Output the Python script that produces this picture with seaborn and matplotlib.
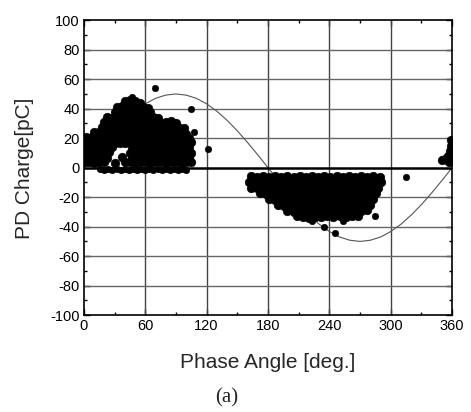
import numpy as np
import pandas as pd
import matplotlib
matplotlib.use("Agg")
import matplotlib.pyplot as plt
import seaborn as sns

# Positive half-cycle discharges (phase in deg, charge in pC), row by row
pos_phase = [40, 45, 50, 55,
             32.5, 37.5, 42.5, 47.5, 52.5, 57.5, 62.5,
             30, 35, 40, 45, 50, 55, 60, 65,
             22.5, 27.5, 32.5, 37.5, 42.5, 47.5, 52.5, 57.5, 62.5, 67.5, 72.5,
             20, 25, 30, 35, 40, 45, 50, 55, 60, 65, 70, 75, 80, 85, 90,
             17.5, 22.5, 27.5, 32.5, 37.5, 42.5, 47.5, 52.5, 57.5, 62.5, 67.5, 72.5, 77.5, 82.5, 87.5, 92.5, 97.5,
             10, 15, 20, 25, 30, 35, 40, 45, 50, 55, 60, 65, 70, 75, 80, 85, 90, 95, 100,
             2.5, 7.5, 12.5, 17.5, 22.5, 27.5, 32.5, 37.5, 42.5, 47.5, 52.5, 57.5, 62.5, 67.5, 72.5, 77.5, 82.5, 87.5, 92.5, 97.5, 102.5,
             1, 5, 10, 15, 20, 25, 30, 35, 40, 45, 50, 55, 60, 65, 70, 75, 80, 85, 90, 95, 100, 105,
             2.5, 7.5, 12.5, 17.5, 22.5, 27.5, 47.5, 52.5, 57.5, 62.5, 67.5, 72.5, 77.5, 82.5, 87.5, 92.5, 97.5, 102.5,
             1, 5, 10, 15, 20, 25, 45, 50, 55, 60, 65, 70, 75, 80, 85, 90, 95, 100, 105,
             2.5, 7.5, 12.5, 17.5, 22.5, 37.5, 47.5, 52.5, 57.5, 62.5, 67.5, 72.5, 77.5, 82.5, 87.5, 92.5, 97.5, 102.5,
             1, 5, 10, 15, 20, 30, 40, 45, 50, 55, 60, 65, 70, 75, 80, 85, 90, 95, 100, 105]
pos_charge = [45, 46, 45, 44,
              41, 42, 41.5, 42, 41.5, 41, 40.5,
              38, 38.5, 38, 38, 38.5, 38, 37.5, 37.5,
              34.5, 34, 35, 34.5, 34, 35, 34.5, 34, 35, 34.5, 33.5,
              31, 31.5, 31, 30.5, 31, 31.5, 31, 30.5, 31, 31.5, 31, 30.5, 31, 31.5, 30,
              27.5, 27, 28, 27.5, 27, 28, 27.5, 27, 28, 27.5, 27, 28, 27.5, 27, 28, 27.5, 27,
              24, 24.5, 24, 23.5, 24, 24.5, 24, 23.5, 24, 24.5, 24, 23.5, 24, 24.5, 24, 23.5, 24, 24.5, 23,
              20.5, 21, 20.5, 20, 20.5, 21, 20.5, 20, 20.5, 21, 20.5, 20, 20.5, 21, 20.5, 20, 20.5, 21, 20.5, 20, 20,
              17, 17.5, 17, 16.5, 17, 17.5, 17, 16.5, 17, 17.5, 17, 16.5, 17, 17.5, 17, 16.5, 17, 17.5, 17, 16.5, 17, 17.5,
              13.5, 14, 13.5, 13, 13.5, 14, 13.5, 13, 13.5, 14, 13.5, 13, 13.5, 14, 13.5, 13, 13.5, 14,
              10, 10.5, 10, 9.5, 10, 10.5, 10, 9.5, 10, 10.5, 10, 9.5, 10, 10.5, 10, 9.5, 10, 10.5, 10,
              6.5, 7, 6.5, 6, 6.5, 7, 6.5, 6, 6.5, 7, 6.5, 6, 6.5, 7, 6.5, 6, 6.5, 7,
              4, 4, 3.5, 4, 4, 3.5, 4, 4, 3.5, 4, 4, 3.5, 4, 4, 3.5, 4, 4, 3.5, 4, 4]

# small discharges just below zero
band_phase = [16, 20, 24, 28, 32, 36, 40, 44, 48, 52, 56, 60, 64, 68, 72, 76, 80, 84, 88, 92, 96, 100]
band_charge = [-1, -1.5, -1, -1.5, -1, -1.5, -1, -1.5, -1, -1.5, -1, -1.5, -1, -1.5, -1, -1.5, -1, -1.5, -1, -1.5, -1, -1.5]

# Negative half-cycle discharges
neg_phase = [163, 169, 175, 181, 187, 193, 199, 205, 211, 217, 223, 229, 235, 241, 247, 253, 259, 265, 271, 277, 283, 289,
             161, 166, 172, 178, 184, 190, 196, 202, 208, 214, 220, 226, 232, 238, 244, 250, 256, 262, 268, 274, 280, 286, 290,
             163, 169, 175, 181, 187, 193, 199, 205, 211, 217, 223, 229, 235, 241, 247, 253, 259, 265, 271, 277, 283, 288,
             172, 178, 184, 190, 196, 202, 208, 214, 220, 226, 232, 238, 244, 250, 256, 262, 268, 274, 280, 286,
             181, 187, 193, 199, 205, 211, 217, 223, 229, 235, 241, 247, 253, 259, 265, 271, 277, 283,
             190, 196, 202, 208, 214, 220, 226, 232, 238, 244, 250, 256, 262, 268, 274, 280,
             199, 205, 211, 217, 223, 229, 235, 241, 247, 253, 259, 265, 271, 277,
             208, 214, 220, 226, 232, 238, 244, 250, 256, 262, 268]
neg_charge = [-5.5, -6, -5.5, -6, -5.5, -6, -5.5, -6, -5.5, -6, -5.5, -6, -5.5, -6, -5.5, -6, -5.5, -6, -5.5, -6, -5.5, -6,
              -9.5, -10, -9.5, -10, -9.5, -10, -9.5, -10, -9.5, -10, -9.5, -10, -9.5, -10, -9.5, -10, -9.5, -10, -9.5, -10, -9.5, -10, -9.5,
              -13.5, -14, -13.5, -14, -13.5, -14, -13.5, -14, -13.5, -14, -13.5, -14, -13.5, -14, -13.5, -14, -13.5, -14, -13.5, -14, -13.5, -14,
              -17.5, -18, -17.5, -18, -17.5, -18, -17.5, -18, -17.5, -18, -17.5, -18, -17.5, -18, -17.5, -18, -17.5, -18, -17.5, -17.5,
              -21.5, -22, -21.5, -22, -21.5, -22, -21.5, -22, -21.5, -22, -21.5, -22, -21.5, -22, -21.5, -22, -21.5, -21.5,
              -25.5, -26, -25.5, -26, -25.5, -26, -25.5, -26, -25.5, -26, -25.5, -26, -25.5, -26, -25.5, -25.5,
              -29.5, -30, -29.5, -30, -29.5, -30, -29.5, -30, -29.5, -30, -29.5, -30, -29.5, -28.5,
              -33, -33.5, -34, -33.5, -33.5, -33, -33.5, -33, -33.5, -33, -32.5]

# discharges at the end of the cycle
tail_phase = [350, 353, 356, 357, 358, 359, 359, 360]
tail_charge = [5, 6, 8, 4, 11, 15, 19, 8]

# isolated discharges away from the clusters
stray_phase = [47.5, 70, 105, 108, 121, 223, 235, 245, 253, 285, 315]
stray_charge = [48, 54, 40, 24, 13, -36, -40, -44, -36, -33, -6]

# applied voltage reference curve
sine_phase = [0, 10, 20, 30, 40, 50, 60, 70, 80, 90, 100, 110, 120, 130, 140, 150, 160, 170, 180,
              190, 200, 210, 220, 230, 240, 250, 260, 270, 280, 290, 300, 310, 320, 330, 340, 350, 360]
sine_value = [0, 8.7, 17.1, 25.0, 32.1, 38.3, 43.3, 47.0, 49.2, 50.0, 49.2, 47.0, 43.3, 38.3, 32.1, 25.0, 17.1, 8.7, 0,
              -8.7, -17.1, -25.0, -32.1, -38.3, -43.3, -47.0, -49.2, -50.0, -49.2, -47.0, -43.3, -38.3, -32.1, -25.0, -17.1, -8.7, 0]

dots = pd.DataFrame({
    "phase": pos_phase + neg_phase + tail_phase,
    "charge": pos_charge + neg_charge + tail_charge,
})
small = pd.DataFrame({
    "phase": band_phase + stray_phase,
    "charge": band_charge + stray_charge,
})
curve = pd.DataFrame({"phase": sine_phase, "value": sine_value})

sns.set_style("ticks")
plt.rcParams["font.family"] = ["Liberation Sans", "DejaVu Sans"]
plt.rcParams["axes.unicode_minus"] = False

fig = plt.figure(figsize=(4.71, 4.12), dpi=100)
ax = fig.add_axes([0.178, 0.235, 0.782, 0.716])

# grid
for gx in [60, 120, 180, 240, 300]:
    ax.axvline(gx, color="#444444", lw=1.0, zorder=1)
for gy in [-80, -60, -40, -20, 20, 40, 60, 80]:
    ax.axhline(gy, color="#666666", lw=1.0, zorder=1)

sns.lineplot(data=curve, x="phase", y="value", color="#555555", lw=0.8, ax=ax, zorder=2)
ax.axhline(0, color="black", lw=1.8, zorder=3)
sns.scatterplot(data=dots, x="phase", y="charge", color="black", s=40,
                edgecolor="black", linewidth=0.3, ax=ax, zorder=4)
sns.scatterplot(data=small, x="phase", y="charge", color="black", s=24,
                edgecolor="black", linewidth=0.2, ax=ax, zorder=4)

ax.set_xlim(0, 360)
ax.set_ylim(-100, 100)
ax.set_xticks([0, 60, 120, 180, 240, 300, 360])
ax.set_xticks([30, 90, 150, 210, 270, 330], minor=True)
ax.set_yticks(np.arange(-100, 101, 20))
ax.set_yticks(np.arange(-90, 100, 20), minor=True)
ax.tick_params(which="both", direction="in", top=True, right=True, labelsize=10.5, pad=3, colors="black")
ax.tick_params(which="major", length=4, width=1)
ax.tick_params(which="minor", length=2.5, width=1)
for s in ax.spines.values():
    s.set_linewidth(1.2)
    s.set_color("black")
ax.set_xlabel("")
ax.set_ylabel("")

fig.text(268 / 471, 1 - 362 / 412, "Phase Angle [deg.]", ha="center", va="center", fontsize=15)
fig.text(24 / 471, 1 - 168 / 412, "PD Charge[pC]", ha="center", va="center", rotation=90, fontsize=15)
fig.text(227 / 471, 1 - 398 / 412, "(a)", ha="center", va="center", fontsize=15,
         family=["Liberation Serif", "DejaVu Serif"])

fig.savefig("out.png", dpi=100)
